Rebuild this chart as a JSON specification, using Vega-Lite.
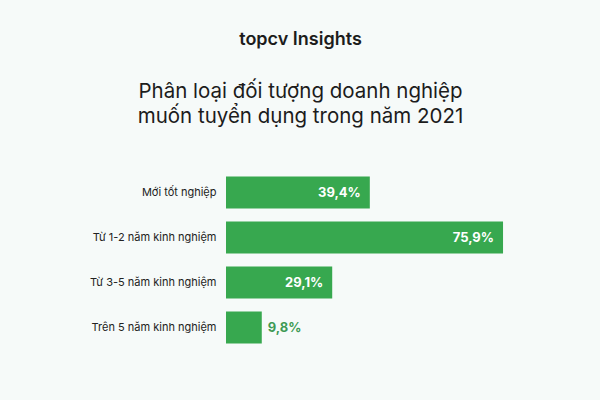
{
  "$schema": "https://vega.github.io/schema/vega-lite/v6.json",
  "description": "Phân loại đối tượng doanh nghiệp muốn tuyển dụng trong năm 2021",
  "autosize": "none",
  "width": 365,
  "height": 180,
  "padding": {"left": 226, "top": 170, "right": 9, "bottom": 50},
  "background": "#f6faf9",
  "title": {
    "text": "topcv Insights",
    "subtitle": ["Phân loại đối tượng doanh nghiệp", "muốn tuyển dụng trong năm 2021"],
    "anchor": "middle",
    "dx": -108,
    "offset": 43,
    "font": "Inter",
    "fontSize": 18,
    "fontWeight": 600,
    "color": "#1c1c1c",
    "subtitleFont": "Inter",
    "subtitleFontSize": 20.5,
    "subtitleColor": "#1c1c1c",
    "subtitleLineHeight": 25,
    "subtitlePadding": 33
  },
  "config": {
    "view": {"stroke": null},
    "font": "Inter"
  },
  "data": {
    "values": [
      {"group": "Mới tốt nghiệp", "pct": 39.4, "label": "39,4%"},
      {"group": "Từ 1-2 năm kinh nghiệm", "pct": 75.9, "label": "75,9%"},
      {"group": "Từ 3-5 năm kinh nghiệm", "pct": 29.1, "label": "29,1%"},
      {"group": "Trên 5 năm kinh nghiệm", "pct": 9.8, "label": "9,8%"}
    ]
  },
  "encoding": {
    "y": {
      "field": "group",
      "type": "nominal",
      "sort": null,
      "title": null,
      "scale": {"paddingInner": 0.29, "paddingOuter": 0.145},
      "axis": {
        "domain": false,
        "ticks": false,
        "labelPadding": 10,
        "labelFontSize": 11,
        "labelColor": "#222222",
        "labelLimit": 220
      }
    },
    "x": {
      "field": "pct",
      "type": "quantitative",
      "scale": {"domain": [0, 100]},
      "axis": null
    }
  },
  "layer": [
    {"mark": {"type": "bar", "color": "#37a84f"}},
    {
      "transform": [{"filter": "datum.pct >= 20"}],
      "mark": {"type": "text", "align": "right", "dx": -9, "fontSize": 13, "fontWeight": "bold", "color": "#ffffff"},
      "encoding": {"text": {"field": "label"}}
    },
    {
      "transform": [{"filter": "datum.pct < 20"}],
      "mark": {"type": "text", "align": "left", "dx": 6, "fontSize": 13, "fontWeight": "bold", "color": "#3f9a55"},
      "encoding": {"text": {"field": "label"}}
    }
  ]
}
